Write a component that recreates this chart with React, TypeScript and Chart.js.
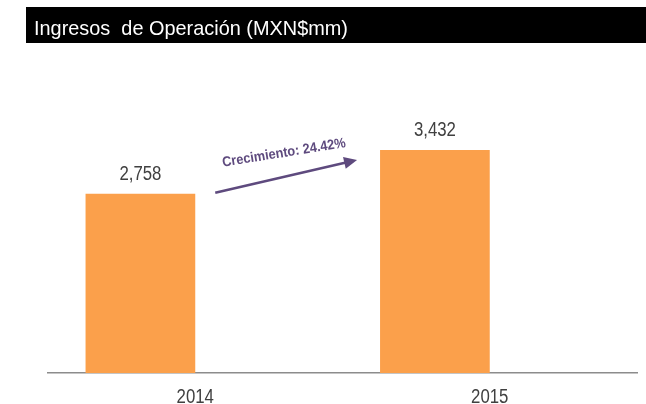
import React, { useEffect, useRef } from "react";
import { Chart, registerables } from "chart.js";

Chart.register(...registerables);

const categories = ["2014", "2015"];
const ingresos = [2758, 3432];
const spacer = [null, null];
const titleText = "Ingresos  de Operación (MXN$mm)";
const growthText = "Crecimiento: 24.42%";

const FONT = "'Liberation Sans', Arial, sans-serif";
const ORANGE = "#FBA04B";
const PURPLE = "#5E4A7E";
const TEXT = "#404040";

function squeezed(ctx: any, text: string, x: number, y: number, sx: number) {
  ctx.save();
  ctx.translate(x, y);
  ctx.scale(sx, 1);
  ctx.fillText(text, 0, 0);
  ctx.restore();
}

const decorPlugin = {
  id: "decor",
  beforeDraw(chart: any) {
    const ctx = chart.ctx;
    ctx.save();
    ctx.fillStyle = "#000000";
    ctx.fillRect(26, 7, chart.width - 26, 36);
    ctx.fillStyle = "#FFFFFF";
    ctx.font = `21px ${FONT}`;
    ctx.textBaseline = "alphabetic";
    ctx.textAlign = "left";
    const w = ctx.measureText(titleText).width;
    squeezed(ctx, titleText, 34, 34.5, 314 / w);
    ctx.restore();
  },
  afterDraw(chart: any) {
    const ctx = chart.ctx;
    const xs = chart.scales.x;
    ctx.save();
    ctx.fillStyle = TEXT;
    ctx.font = `20px ${FONT}`;
    ctx.textAlign = "center";
    ctx.textBaseline = "alphabetic";
    categories.forEach((c, i) => {
      squeezed(ctx, c, xs.getPixelForTick(i), xs.top + 30, 0.84);
    });
    ctx.restore();
  },
  afterDatasetsDraw(chart: any) {
    const ctx = chart.ctx;
    const meta = chart.getDatasetMeta(0);
    ctx.save();
    ctx.fillStyle = TEXT;
    ctx.font = `20px ${FONT}`;
    ctx.textAlign = "center";
    ctx.textBaseline = "alphabetic";
    meta.data.forEach((bar: any, i: number) => {
      const v = ingresos[i];
      squeezed(ctx, v.toLocaleString("en-US"), bar.x, bar.y - 13.5, 0.84);
    });
    // growth arrow
    const b0: any = meta.data[0];
    const b1: any = meta.data[1];
    const x0 = b0.x + b0.width / 2 + 20;
    const y0 = b0.y - 1;
    const x1 = b1.x - b1.width / 2 - 23;
    const y1 = b1.y + 10;
    const ang = Math.atan2(y1 - y0, x1 - x0);
    ctx.strokeStyle = PURPLE;
    ctx.fillStyle = PURPLE;
    ctx.lineWidth = 2.5;
    const head = 13;
    ctx.beginPath();
    ctx.moveTo(x0, y0);
    ctx.lineTo(x1 - head * 0.7 * Math.cos(ang), y1 - head * 0.7 * Math.sin(ang));
    ctx.stroke();
    ctx.beginPath();
    ctx.moveTo(x1, y1);
    ctx.lineTo(x1 - head * Math.cos(ang) + 6 * Math.sin(ang), y1 - head * Math.sin(ang) - 6 * Math.cos(ang));
    ctx.lineTo(x1 - head * Math.cos(ang) - 6 * Math.sin(ang), y1 - head * Math.sin(ang) + 6 * Math.cos(ang));
    ctx.closePath();
    ctx.fill();
    // label
    ctx.translate(284, 153);
    ctx.rotate(-0.16);
    ctx.font = `bold 14px ${FONT}`;
    ctx.textAlign = "center";
    ctx.textBaseline = "middle";
    const gw = ctx.measureText(growthText).width;
    ctx.scale(125 / gw, 1);
    ctx.fillText(growthText, 0, 0);
    ctx.restore();
  },
};

export default function App() {
  const ref = useRef<HTMLCanvasElement>(null);
  useEffect(() => {
    document.body.style.margin = "0";
    const chart = new Chart(ref.current!, {
      type: "bar",
      data: {
        labels: categories,
        datasets: [
          { data: ingresos, backgroundColor: ORANGE, borderWidth: 0 },
          { data: spacer as any, backgroundColor: ORANGE, borderWidth: 0 },
        ],
      },
      options: {
        animation: false,
        responsive: false,
        maintainAspectRatio: false,
        events: [],
        layout: { padding: { top: 113, left: 48, right: 9, bottom: 0 } },
        plugins: {
          legend: { display: false },
          tooltip: { enabled: false },
          title: { display: false },
        },
        datasets: { bar: { categoryPercentage: 0.745, barPercentage: 1.0 } },
        scales: {
          x: {
            grid: { display: false, drawTicks: false },
            border: { display: true, color: "#8C8C8C", width: 1.5 },
            ticks: { display: false },
            afterFit(scale: any) {
              scale.height = 31;
            },
          },
          y: {
            display: false,
            min: 0,
            max: 4000,
          },
        },
      },
      plugins: [decorPlugin],
    });
    return () => chart.destroy();
  }, []);
  return (
    <div style={{ width: 646, height: 404 }}>
      <canvas ref={ref} width={646} height={404} style={{ display: "block" }} />
    </div>
  );
}
